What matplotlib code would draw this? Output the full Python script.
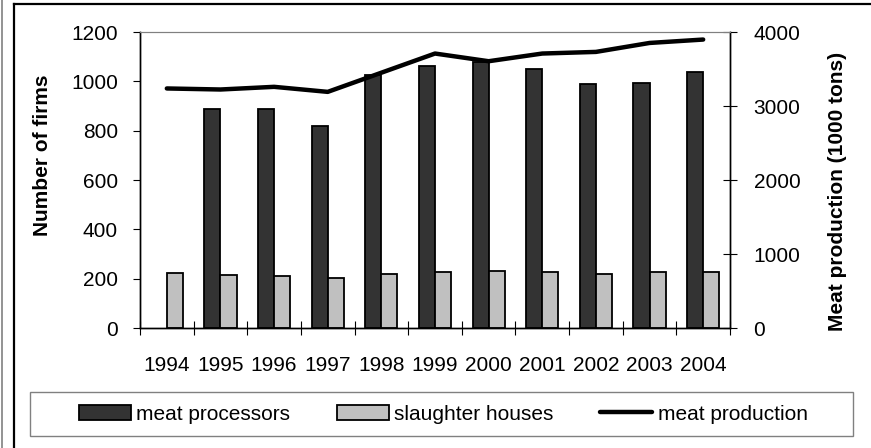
import matplotlib
matplotlib.use('Agg')
import matplotlib.pyplot as plt
from matplotlib.patches import Rectangle
from matplotlib.lines import Line2D
import numpy as np

plt.rcParams['font.family'] = ['Liberation Sans', 'DejaVu Sans']
plt.rcParams['font.size'] = 15

years = ['1994', '1995', '1996', '1997', '1998', '1999', '2000', '2001', '2002', '2003', '2004']
# no processor figure for 1994
processors = [np.nan, 888, 886, 817, 1027, 1063, 1080, 1049, 988, 994, 1038]
slaughter = [221, 214, 212, 201, 220, 228, 233, 225, 220, 227, 226]
production = [3237, 3223, 3259, 3191, 3450, 3709, 3605, 3709, 3731, 3852, 3898]

W, H = 871, 448
fig = plt.figure(figsize=(W / 100, H / 100), dpi=100)
ax = fig.add_axes([140 / W, 1 - 328 / H, 590 / W, 296 / H])

x = np.arange(len(years))
bw = 0.3
ax.bar(x - bw / 2, processors, bw, color='#333333', edgecolor='black', linewidth=1.3,
       label='meat processors')
ax.bar(x + bw / 2, slaughter, bw, color='#c0c0c0', edgecolor='black', linewidth=1.3,
       label='slaughter houses')
ax.set_xlim(-0.5, len(years) - 0.5)
ax.set_ylim(0, 1200)
ax.set_yticks(range(0, 1201, 200))
ax.tick_params(axis='y', direction='out', length=5, width=0.8, pad=11)
ax.set_xticks(x)
ax.set_xticklabels(years)
ax.tick_params(axis='x', which='major', length=0, pad=20)
ax.set_xticks(np.arange(-0.5, len(years), 1), minor=True)
ax.tick_params(axis='x', which='minor', direction='inout', length=10, width=0.8)

ax2 = ax.twinx()
ax2.plot(x, production, color='black', linewidth=3.2, solid_capstyle='round',
         label='meat production')
ax2.set_ylim(0, 4000)
ax2.set_yticks(range(0, 4001, 1000))
ax2.tick_params(axis='y', direction='inout', length=10, width=0.8, pad=12)

for a in (ax, ax2):
    a.spines['top'].set_color('#808080')
    for s in ('left', 'right', 'bottom'):
        a.spines[s].set_color('black')
        a.spines[s].set_linewidth(1)

fig.text(42 / W, 1 - 155 / H, 'Number of firms', rotation=90, ha='center', va='center',
         fontweight='bold')
fig.text(837 / W, 1 - 191 / H, 'Meat production (1000 tons)', rotation=90, ha='center',
         va='center', fontweight='bold')

# legend frame and outer border
fig.patches.append(Rectangle((30 / W, 1 - 436 / H), 823 / W, 44 / H, transform=fig.transFigure,
                             fill=False, edgecolor='#808080', linewidth=1))
fig.lines.append(Line2D([14 / W, 14 / W], [0, 1 - 4 / H], transform=fig.transFigure,
                        color='black', linewidth=1.6))
fig.lines.append(Line2D([14 / W, 1], [1 - 4 / H, 1 - 4 / H], transform=fig.transFigure,
                        color='black', linewidth=1.6))
fig.lines.append(Line2D([2 / W, 2 / W], [0, 1], transform=fig.transFigure,
                        color='#808080', linewidth=1.2))

h1, l1 = ax.get_legend_handles_labels()
h2, l2 = ax2.get_legend_handles_labels()
fig.legend(h1 + h2, l1 + l2, ncol=3, loc='center', bbox_to_anchor=(443 / W, 1 - 414 / H),
           frameon=False, handlelength=2.5, handletextpad=0.25, columnspacing=2.25,
           borderpad=0)

fig.savefig('out.png', dpi=100)
